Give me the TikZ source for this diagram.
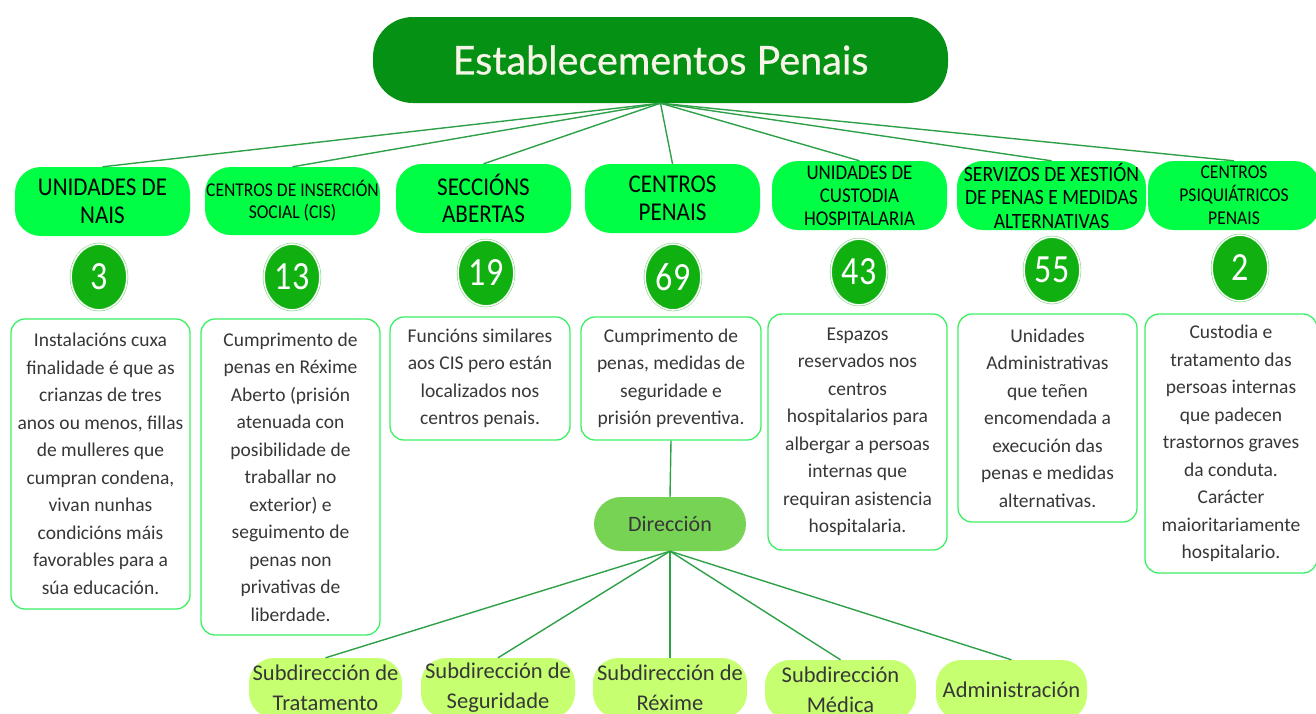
\documentclass[tikz,border=0pt]{standalone}
\usepackage{fontspec}
\setmainfont{Carlito}
\newfontfamily\titlefont[FakeBold=0.6]{Lato}
\newfontfamily\labfont[FakeStretch=0.9]{Carlito}
\newfontfamily\numfont[FakeStretch=0.85]{Carlito}
\usetikzlibrary{shapes.geometric}
\definecolor{titlegreen}{RGB}{5,146,20}
\definecolor{titletext}{RGB}{248,244,232}
\definecolor{catgreen}{RGB}{0,255,68}
\definecolor{numgreen}{RGB}{16,176,16}
\definecolor{ringgreen}{RGB}{90,200,90}
\definecolor{descgreen}{RGB}{60,240,100}
\definecolor{conngreen}{RGB}{45,160,72}
\definecolor{dirgreen}{RGB}{119,211,83}
\definecolor{subgreen}{RGB}{198,255,112}
\definecolor{textgray}{RGB}{55,55,55}
\begin{document}
\begin{tikzpicture}[x=1pt,y=-1pt,
  titlebox/.style={fill=titlegreen, rounded corners=40pt, minimum width=575pt, minimum height=86pt, text=titletext, font=\titlefont\fontsize{39.5}{42}\selectfont, inner sep=0pt},
  cat/.style={fill=catgreen, rounded corners=26pt, minimum height=69pt, align=center, inner sep=0pt, text=black},
  catbig/.style={cat, font=\labfont\fontsize{25.6}{27.5}\selectfont},
  num/.style={ellipse, fill=numgreen, draw=ringgreen, double=white, double distance=1.5pt, minimum width=56pt, minimum height=66pt, inner sep=0pt, text=white, font=\numfont\fontsize{40}{40}\selectfont},
  desc/.style={draw=descgreen, line width=1.3pt, fill=white, rounded corners=14pt, align=center, text=textgray, font=\fontsize{19.5}{27.5}\selectfont, inner sep=0pt},
  dirbox/.style={fill=dirgreen, rounded corners=27pt, minimum width=152pt, minimum height=54pt, text=textgray, font=\fontsize{22}{24}\selectfont, inner sep=0pt},
  subbox/.style={fill=subgreen, rounded corners=25pt, minimum height=60pt, align=center, text=textgray, font=\fontsize{22.5}{30}\selectfont, inner sep=0pt},
  conn/.style={draw=conngreen, line width=1.4pt}
]
\useasboundingbox (0,0) rectangle (1316,713);
\clip (0,0) rectangle (1316,713);

% title
\node[titlebox] (t) at (660.5,60) {Establecementos Penais};

% categories
\node[catbig, minimum width=175pt] (c1) at (102.5,201.5) {UNIDADES DE\\NAIS};
\node[cat, minimum width=175pt, minimum height=68pt, font=\labfont\fontsize{19.5}{22}\selectfont] (c2) at (292.5,201) {CENTROS DE INSERCIÓN\\SOCIAL (CIS)};
\node[catbig, minimum width=175pt] (c3) at (483.5,198.5) {SECCIÓNS\\ABERTAS};
\node[catbig, minimum width=175pt] (c4) at (672.5,198.5) {CENTROS\\PENAIS};
\node[cat, minimum width=175pt, font=\labfont\fontsize{21}{23}\selectfont] (c5) at (859.5,195.5) {UNIDADES DE\\CUSTODIA\\HOSPITALARIA};
\node[cat, minimum width=189pt, font=\labfont\fontsize{21.8}{23.5}\selectfont] (c6) at (1051.5,195.5) {SERVIZOS DE XESTIÓN\\DE PENAS E MEDIDAS\\ALTERNATIVAS};
\node[cat, minimum width=172pt, font=\labfont\fontsize{19.5}{23}\selectfont] (c7) at (1234,195.5) {CENTROS\\PSIQUIÁTRICOS\\PENAIS};

\foreach \c in {c1,c2,c3,c4,c5,c6,c7} \draw[conn] (t.south) -- (\c.north);

% numbers
\node[num] (n1) at (99,277) {3};
\node[num] (n2) at (292,277) {13};
\node[num] (n3) at (486,273) {19};
\node[num] (n4) at (673,277) {69};
\node[num] (n5) at (859,272) {43};
\node[num] (n6) at (1052,270) {55};
\node[num] (n7) at (1240,268) {2};

% descriptions
\node[desc, minimum width=179pt, minimum height=290pt] (d1) at (100.5,464) {Instalacións cuxa\\finalidade é que as\\crianzas de tres\\anos ou menos, fillas\\de mulleres que\\cumpran condena,\\vivan nunhas\\condicións máis\\favorables para a\\súa educación.};
\node[desc, minimum width=179pt, minimum height=316pt] (d2) at (290.5,477) {Cumprimento de\\penas en Réxime\\Aberto (prisión\\atenuada con\\posibilidade de\\traballar no\\exterior) e\\seguimento de\\penas non\\privativas de\\liberdade.};
\node[desc, minimum width=180pt, minimum height=123pt] (d3) at (480,378.5) {Funcións similares\\aos CIS pero están\\localizados nos\\centros penais.};
\node[desc, minimum width=180pt, minimum height=123pt] (d4) at (671,378.5) {Cumprimento de\\penas, medidas de\\seguridade e\\prisión preventiva.};
\node[desc, minimum width=179pt, minimum height=236pt] (d5) at (857.5,432) {Espazos\\reservados nos\\centros\\hospitalarios para\\albergar a persoas\\internas que\\requiran asistencia\\hospitalaria.};
\node[desc, minimum width=179pt, minimum height=208pt] (d6) at (1047.5,418) {Unidades\\Administrativas\\que teñen\\encomendada a\\execución das\\penas e medidas\\alternativas.};
\node[desc, minimum width=172pt, minimum height=259pt] (d7) at (1231,443.5) {Custodia e\\tratamento das\\persoas internas\\que padecen\\trastornos graves\\da conduta.\\Carácter\\maioritariamente\\hospitalario.};

% direccion
\node[dirbox] (dir) at (670,524) {Dirección};
\draw[conn] (d4.south) -- (dir.north);

\node[subbox, minimum width=153pt] (s1) at (325.5,688) {Subdirección de\\Tratamento};
\node[subbox, minimum width=154pt] (s2) at (498,688) {Subdirección de\\Seguridade};
\node[subbox, minimum width=154pt] (s3) at (670,688) {Subdirección de\\Réxime};
\node[subbox, minimum width=151pt] (s4) at (840.5,690) {Subdirección\\Médica};
\node[subbox, minimum width=151pt] (s5) at (1011.5,690) {Administración};

\foreach \s in {s1,s2,s3,s4,s5} \draw[conn] (dir.south) -- (\s.north);
\end{tikzpicture}
\end{document}
